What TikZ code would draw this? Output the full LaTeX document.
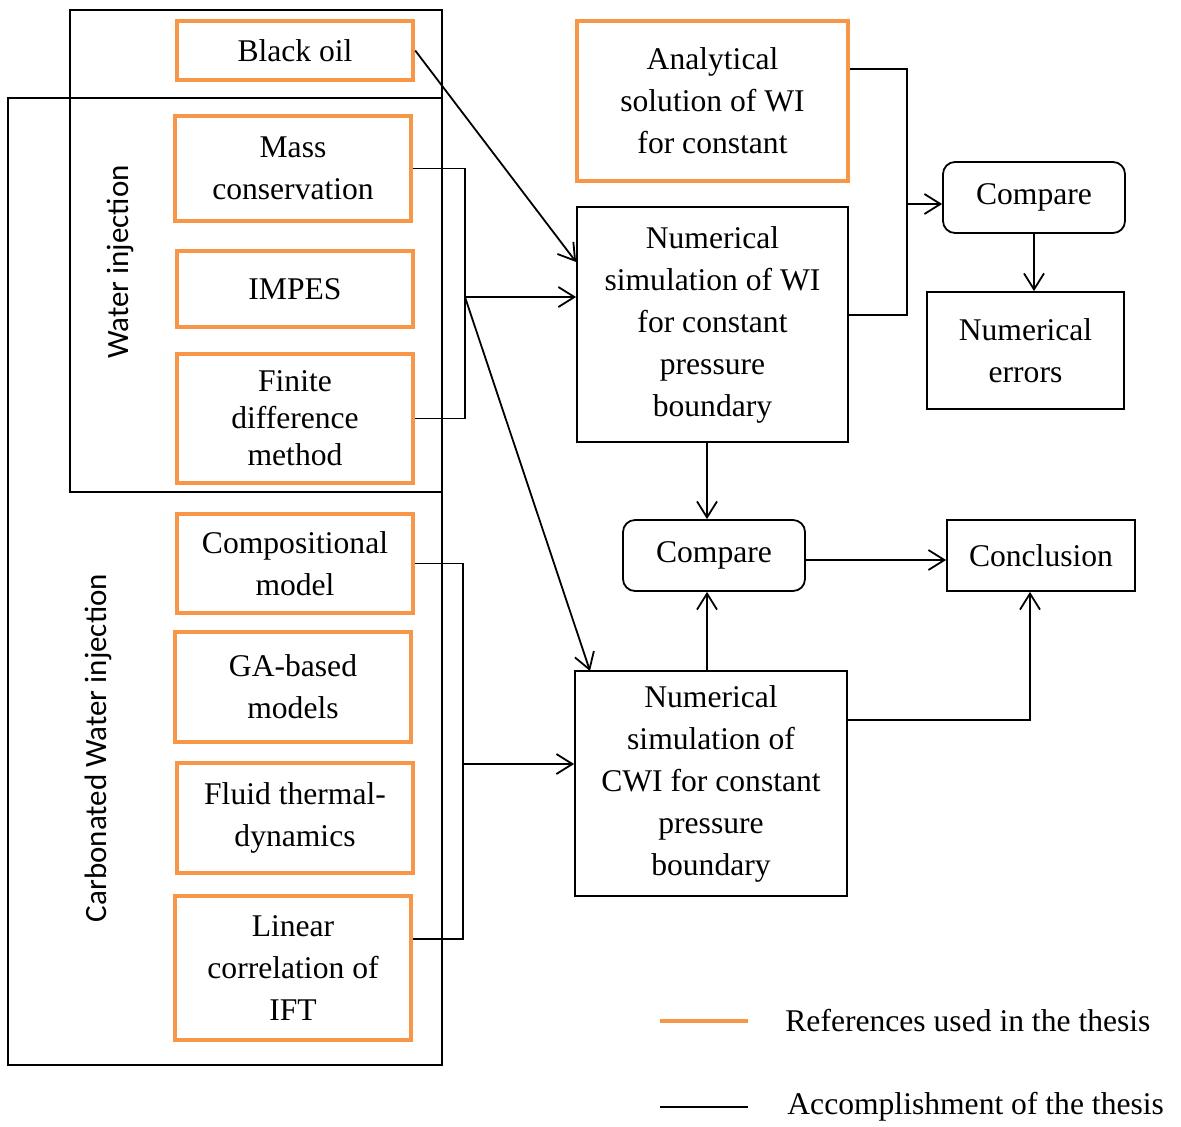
\documentclass[tikz,border=0pt]{standalone}
\usepackage{fontspec}
\setmainfont{Liberation Serif}
\newfontfamily\labelfont{Carlito}
\usetikzlibrary{arrows.meta}
\definecolor{refor}{HTML}{F79646}
\begin{document}
\begin{tikzpicture}[x=0.5pt,y=-0.5pt,
    every node/.style={font=\fontsize{15.8}{21}\selectfont, align=center, inner sep=0pt},
    refbox/.style={draw=refor, line width=2.2pt, minimum width=118pt},
    ownbox/.style={draw, line width=0.9pt},
    cmpbox/.style={draw, line width=0.9pt, rounded corners=6pt, minimum width=91pt, minimum height=35.5pt},
    link/.style={line width=0.9pt},
    arr/.style={link, -{Straight Barb[length=8pt,width=10pt]}}]
  \useasboundingbox (0,0) rectangle (1181,1126);
  % frames
  \draw[line width=0.9pt] (70,10) rectangle (442,492);
  \draw[line width=0.9pt] (8,98) rectangle (442,1065);
  \node[rotate=90, font=\labelfont\fontsize{15.5}{18}\selectfont] (wilabel) at (120,262) {Water injection};
  \node[rotate=90, font=\labelfont\fontsize{15.5}{18}\selectfont] (cwilabel) at (98,748) {Carbonated Water injection};
  % references
  \node[refbox, minimum height=29.5pt] (blackoil) at (295,50.5) {Black oil};
  \node[refbox, minimum height=52.5pt] (mass) at (293,168.5) {Mass\\conservation};
  \node[refbox, minimum height=38pt] (impes) at (295,289) {IMPES};
  \node[refbox, minimum height=64.5pt, font=\fontsize{15.8}{18.5}\selectfont] (fdm) at (295,418.5) {Finite\\difference\\method};
  \node[refbox, minimum height=49.5pt] (comp) at (295,563.5) {Compositional\\model};
  \node[refbox, minimum height=55pt] (ga) at (293,687) {GA-based\\models};
  \node[refbox, minimum height=55pt] (fluid) at (295,818) {Fluid thermal-\\dynamics};
  \node[refbox, minimum height=72pt] (ift) at (293,968) {Linear\\correlation of\\IFT};
  \node[refbox, minimum width=135.5pt, minimum height=80pt] (analytic) at (712.5,101) {Analytical\\solution of WI\\for constant};
  % thesis work
  \node[ownbox, minimum width=135.5pt, minimum height=117.5pt] (simwi) at (712.5,324.5) {Numerical\\simulation of WI\\for constant\\pressure\\boundary};
  \node[ownbox, minimum width=136pt, minimum height=112.5pt] (simcwi) at (711,783.5) {Numerical\\simulation of\\CWI for constant\\pressure\\boundary};
  \node[cmpbox] (cmpa) at (1034,197.5) {Compare};
  \node[ownbox, minimum width=98.5pt, minimum height=58.5pt] (errors) at (1025.5,350.5) {Numerical\\errors};
  \node[cmpbox] (cmpb) at (714,555.5) {Compare};
  \node[ownbox, minimum width=94pt, minimum height=35.5pt] (concl) at (1041,555.5) {Conclusion};
  % connectors
  \coordinate (j1) at (465,297);
  \coordinate (j2) at (463,764);
  \coordinate (j3) at (907,204);
  \draw[arr] (blackoil.east) -- (simwi.west |- 0,262);
  \draw[link] (mass.east) -- (mass.east -| j1) |- (fdm.east);
  \draw[arr] (j1) -- (j1 -| simwi.west);
  \draw[arr] (j1) -- (590,671);
  \draw[link] (comp.east) -- (comp.east -| j2) |- (ift.east |- 0,939);
  \draw[arr] (j2) -- (j2 -| simcwi.west);
  \draw[link] (analytic.east |- 0,69) -- (907,69) |- (simwi.east |- 0,315);
  \draw[arr] (j3) -- (j3 -| cmpa.west);
  \draw[arr] (cmpa.south) -- (cmpa.south |- errors.north);
  \draw[arr] (707,0 |- simwi.south) -- (707,0 |- cmpb.north);
  \draw[arr] (707,0 |- simcwi.north) -- (707,0 |- cmpb.south);
  \draw[arr] (cmpb.east |- 0,560) -- (concl.west |- 0,560);
  \draw[arr] (simcwi.east |- 0,720) -| (1030,0 |- concl.south);
  % legend
  \draw[draw=refor, line width=2.2pt] (660,1021) -- (748,1021);
  \node[anchor=west] (legref) at (785,1021) {References used in the thesis};
  \draw[link] (660,1107) -- (748,1107);
  \node[anchor=west] (legacc) at (787,1107) {Accomplishment of the thesis};
\end{tikzpicture}
\end{document}
